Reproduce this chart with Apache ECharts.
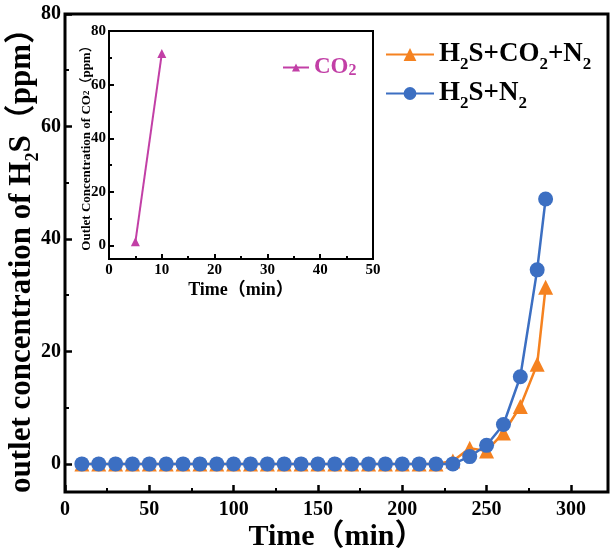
<!DOCTYPE html>
<html lang="en">
<head>
<meta charset="utf-8">
<title>H2S outlet concentration</title>
<script src="https://cdn.jsdelivr.net/npm/echarts@6/dist/echarts.min.js"></script>
<style>
  html, body { margin: 0; padding: 0; background: #fff; }
  #chart { width: 612px; height: 549px; }
</style>
</head>
<body>
<div id="chart"></div>
<script>
// time points (min) for the main chart
var times = [10, 20, 30, 40, 50, 60, 70, 80, 90, 100, 110, 120, 130, 140, 150, 160, 170, 180, 190, 200, 210, 220, 230, 240, 250, 260, 270, 280, 285];
// H2S+CO2+N2 outlet H2S (ppm)
var withCO2 = [0, 0, 0, 0, 0, 0, 0, 0, 0, 0, 0, 0, 0, 0, 0, 0, 0, 0, 0, 0, 0, 0, 0.5, 2.8, 2.3, 5.5, 10.2, 17.7, 31.4];
// H2S+N2 outlet H2S (ppm)
var withoutCO2 = [0, 0, 0, 0, 0, 0, 0, 0, 0, 0, 0, 0, 0, 0, 0, 0, 0, 0, 0, 0, 0, 0, 0, 1.3, 3.3, 7.0, 15.5, 34.5, 47.1];
// inset: CO2 outlet
var co2Times = [5, 10];
var co2Values = [1.4, 71.6];

// axis ranges / tick steps
var mainXMax = 322, mainXTickMax = 300, mainXStep = 50;
var yMin = -5, yMax = 80, yStep = 20;
var insetXMax = 50, insetXStep = 10;

var FONT = '"Liberation Serif", "Noto Sans CJK SC", serif';
var ORANGE = '#F58220';
var BLUE = '#3C6FC2';
var MAGENTA = '#C23FA6';

function pairs(xs, ys) {
  var out = [];
  for (var i = 0; i < xs.length; i++) out.push([xs[i], ys[i]]);
  return out;
}

// plot boxes (px)
var MAIN = { l: 65, r: 612 - 4, t: 14, b: 549 - 57 };
var INSET = { l: 109, r: 373, t: 31, b: 259 };
function py(box, v) { return box.b - (v - yMin) / (yMax - yMin) * (box.b - box.t); }
function px(box, max, v) { return box.l + v / max * (box.r - box.l); }

// helper axis that only anchors a tick grid
function hidden(type, grid) {
  return { type: type, gridIndex: grid, show: false, min: 0, max: 1 };
}

function labelStyle(size, margin) {
  return { color: '#000', fontFamily: FONT, fontWeight: 'bold', fontSize: size, margin: margin };
}
// labels + short minor ticks
function tickAxis(grid, max, step, len, fontSize, margin) {
  return {
    type: 'value', gridIndex: grid, min: 0, max: max, interval: step, z: 10,
    axisLine: { show: false, onZero: false },
    axisTick: { show: true, inside: true, length: 0, lineStyle: { color: '#000', width: 2 } },
    minorTick: { show: true, splitNumber: 2, length: Math.round(len / 2), lineStyle: { color: '#000', width: 2 } },
    axisLabel: labelStyle(fontSize, margin),
    splitLine: { show: false }, minorSplitLine: { show: false }
  };
}
// long ticks at the labelled values: shifted half a step so they fall on the minor positions
function majorAxis(grid, min, max, step, len, width) {
  return {
    type: 'value', gridIndex: grid, min: min, max: max, interval: step, z: 10,
    axisLine: { show: false, onZero: false },
    axisTick: { show: true, inside: true, length: 0, lineStyle: { color: '#000', width: 2 } },
    minorTick: { show: true, splitNumber: 2, length: len, lineStyle: { color: '#000', width: width } },
    axisLabel: { show: false },
    splitLine: { show: false }, minorSplitLine: { show: false }
  };
}
function nameAxis(grid, min, max, name, nameGap, nameStyle, rotate) {
  return {
    type: 'value', gridIndex: grid, min: min, max: max,
    axisLine: { show: false, onZero: false }, axisTick: { show: false }, axisLabel: { show: false }, splitLine: { show: false },
    name: name, nameLocation: 'middle', nameGap: nameGap, nameRotate: rotate, nameTextStyle: nameStyle
  };
}

function subStyle(size, big) {
  return {
    n: { fontFamily: FONT, fontWeight: 'bold', fontSize: big, color: '#000' },
    s: { fontFamily: FONT, fontWeight: 'bold', fontSize: size, color: '#000', verticalAlign: 'bottom', padding: [0, 0, -5, 0] }
  };
}

var legendLabels = {
  'H2S+CO2+N2': '{n|H}{s|2}{n|S+CO}{s|2}{n|+N}{s|2}',
  'H2S+N2': '{n|H}{s|2}{n|S+N}{s|2}'
};

var halfX = mainXStep / 2, halfY = yStep / 2, halfIX = insetXStep / 2;

var grids = [
  // 0 main plot
  { left: MAIN.l, right: 612 - MAIN.r, top: MAIN.t, bottom: 549 - MAIN.b,
    show: true, borderColor: '#000', borderWidth: 3, backgroundColor: 'transparent' },
  // 1 main x labels (0..300)
  { left: MAIN.l, right: 612 - px(MAIN, mainXMax, mainXTickMax), top: MAIN.t, bottom: 549 - MAIN.b },
  // 2 main y labels (0..80)
  { left: MAIN.l, right: 612 - MAIN.r, top: py(MAIN, yMax), bottom: 549 - py(MAIN, 0) },
  // 3 inset plot
  { left: INSET.l, right: 612 - INSET.r, top: INSET.t, bottom: 549 - INSET.b,
    show: true, borderColor: '#000', borderWidth: 2, backgroundColor: '#fff' },
  // 4 inset y labels (0..80)
  { left: INSET.l, right: 612 - INSET.r, top: py(INSET, yMax), bottom: 549 - py(INSET, 0) },
  // 5 inset x labels (0..50)
  { left: INSET.l, right: 612 - INSET.r, top: INSET.t, bottom: 549 - INSET.b },
  // 6 main x long ticks (-25..325)
  { left: px(MAIN, mainXMax, -halfX), right: 612 - px(MAIN, mainXMax, mainXTickMax + halfX), top: MAIN.t, bottom: 549 - MAIN.b },
  // 7 main y long ticks (-10..90)
  { left: MAIN.l, right: 612 - MAIN.r, top: py(MAIN, yMax + halfY), bottom: 549 - py(MAIN, -halfY) },
  // 8 inset x long ticks (-5..55)
  { left: px(INSET, insetXMax, -halfIX), right: 612 - px(INSET, insetXMax, insetXMax + halfIX), top: INSET.t, bottom: 549 - INSET.b },
  // 9 inset y long ticks (-10..90)
  { left: INSET.l, right: 612 - INSET.r, top: py(INSET, yMax + halfY), bottom: 549 - py(INSET, -halfY) }
];
grids.forEach(function (g) { g.outerBoundsMode = 'none'; g.containLabel = false; });

var xAxes = [
  nameAxis(0, 0, mainXMax, 'Time（min）', 30,
    { color: '#000', fontFamily: FONT, fontWeight: 'bold', fontSize: 30 }),
  tickAxis(1, mainXTickMax, mainXStep, 7, 20, 8),
  hidden('value', 2),
  nameAxis(3, 0, insetXMax, 'Time（min）', 22,
    { color: '#000', fontFamily: FONT, fontWeight: 'bold', fontSize: 18 }),
  hidden('value', 4),
  tickAxis(5, insetXMax, insetXStep, 5, 15, 4),
  majorAxis(6, -halfX, mainXTickMax + halfX, mainXStep, 7, 2.5),
  hidden('value', 7),
  majorAxis(8, -halfIX, insetXMax + halfIX, insetXStep, 5, 2),
  hidden('value', 9)
];

var yAxes = [
  nameAxis(0, yMin, yMax, '{n|outlet concentration of H}{s|2}{n|S（ppm）}', 28,
    { rich: subStyle(18, 31) }, 90),
  hidden('value', 1),
  tickAxis(2, yMax, yStep, 7, 20, 4),
  nameAxis(3, yMin, yMax, '{n|Outlet Concentration of CO}{s|2}{n|（ppm）}', 16,
    { rich: {
      n: { fontFamily: FONT, fontWeight: 'bold', fontSize: 13, color: '#000' },
      s: { fontFamily: FONT, fontWeight: 'bold', fontSize: 9, color: '#000' }
    } }, 90),
  tickAxis(4, yMax, yStep, 5, 15, 3),
  hidden('value', 5),
  hidden('value', 6),
  majorAxis(7, -halfY, yMax + halfY, yStep, 7, 2.5),
  hidden('value', 8),
  majorAxis(9, -halfY, yMax + halfY, yStep, 5, 2)
];

var chart = echarts.init(document.getElementById('chart'));
chart.setOption({
  backgroundColor: '#fff',
  animation: false,
  grid: grids,
  xAxis: xAxes,
  yAxis: yAxes,
  legend: [{
    orient: 'vertical', left: 380, top: 36,
    itemWidth: 48, itemHeight: 16, itemGap: 7,
    selectedMode: false,
    data: ['H2S+CO2+N2', 'H2S+N2'],
    formatter: function (name) { return legendLabels[name]; },
    textStyle: { rich: subStyle(17, 27) }
  }, {
    orient: 'vertical', left: 277, top: 51,
    itemWidth: 26, itemHeight: 10,
    selectedMode: false,
    data: ['CO2'],
    formatter: function () { return '{n|CO}{s|2}'; },
    textStyle: { rich: {
      n: { fontFamily: FONT, fontWeight: 'bold', fontSize: 23, color: MAGENTA },
      s: { fontFamily: FONT, fontWeight: 'bold', fontSize: 16, color: MAGENTA, verticalAlign: 'bottom' }
    } }
  }],
  series: [{
    name: 'H2S+CO2+N2', type: 'line', xAxisIndex: 0, yAxisIndex: 0,
    data: pairs(times, withCO2),
    symbol: 'triangle', symbolSize: 15,
    lineStyle: { color: ORANGE, width: 2.5 },
    itemStyle: { color: ORANGE }
  }, {
    name: 'H2S+N2', type: 'line', xAxisIndex: 0, yAxisIndex: 0,
    data: pairs(times, withoutCO2),
    symbol: 'circle', symbolSize: 15,
    lineStyle: { color: BLUE, width: 2.5 },
    itemStyle: { color: BLUE }
  }, {
    name: 'CO2', type: 'line', xAxisIndex: 3, yAxisIndex: 3,
    data: pairs(co2Times, co2Values),
    symbol: 'triangle', symbolSize: 9,
    lineStyle: { color: MAGENTA, width: 2 },
    itemStyle: { color: MAGENTA }
  }]
});
</script>
</body>
</html>
